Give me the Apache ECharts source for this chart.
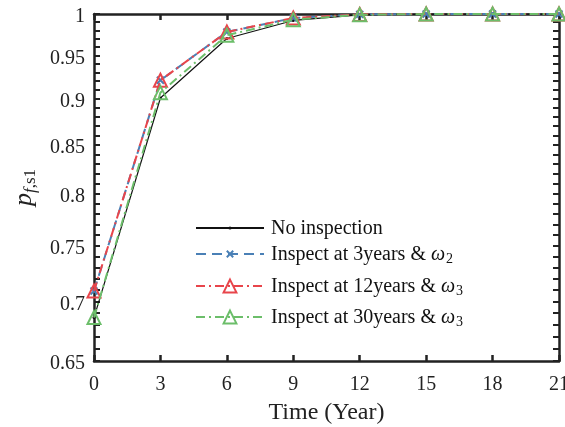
<!DOCTYPE html>
<html><head><meta charset="utf-8">
<script src="https://cdn.jsdelivr.net/npm/echarts@6/dist/echarts.min.js"></script>
<style>html,body{margin:0;padding:0;background:#fff}#c{width:565px;height:427px}</style>
</head><body><div id="c"></div>
<script>
const years = [0, 3, 6, 9, 12, 15, 18, 21];
const noInspection = [0.686, 0.901, 0.970, 0.992, 0.999, 1, 1, 1];
const inspect3 = [0.709, 0.921, 0.978, 0.995, 0.9995, 1, 1, 1];
const inspect12 = [0.709, 0.921, 0.978, 0.995, 0.9995, 1, 1, 1];
const inspect30 = [0.686, 0.907, 0.974, 0.993, 0.999, 1, 1, 1];
const yTickLabels = [0.65, 0.7, 0.75, 0.8, 0.85, 0.9, 0.95, 1];
const yMinorTicks = [0.65, 0.66, 0.67, 0.68, 0.69, 0.7, 0.71, 0.72, 0.73, 0.74, 0.75, 0.76, 0.77, 0.78, 0.79, 0.8, 0.81, 0.82, 0.83, 0.84, 0.85, 0.86, 0.87, 0.88, 0.89, 0.9, 0.91, 0.92, 0.93, 0.94, 0.95, 0.96, 0.97, 0.98, 0.99, 1];
const xTickLabels = [0, 3, 6, 9, 12, 15, 18, 21];
const seriesNames = ['No inspection', 'Inspect at 3years & ω2', 'Inspect at 12years & ω3', 'Inspect at 30years & ω3'];
const legendRich = {
  'No inspection': 'No inspection',
  'Inspect at 3years & ω2': 'Inspect at 3years & {w|ω}{s|2}',
  'Inspect at 12years & ω3': 'Inspect at 12years & {w|ω}{s|3}',
  'Inspect at 30years & ω3': 'Inspect at 30years & {w|ω}{s|3}'
};

const FONT = 'Liberation Serif';
const RED = '#e8454b', GREEN = '#6cbe6a', BLUE = '#4a80b6';
const pairs = arr => years.map((x, i) => [x, arr[i]]);

const legendTops = [216, 238, 270, 301];
const legendItemHeights = [4, 8, 16, 16];
const legends = seriesNames.map((n, i) => ({
  orient: 'vertical', left: 195, top: legendTops[i], padding: 0,
  itemWidth: 68, itemHeight: legendItemHeights[i],
  data: [n],
  formatter: nm => legendRich[nm],
  textStyle: {
    fontFamily: FONT, fontSize: 20, color: '#111', lineHeight: 22, padding: [2, 0, 0, 2],
    rich: {
      w: {fontFamily: FONT, fontStyle: 'italic', fontSize: 20, color: '#111', lineHeight: 22},
      s: {fontFamily: FONT, fontSize: 14, color: '#111', verticalAlign: 'bottom', lineHeight: 14, padding: [14, 0, 0, 1]}
    }
  }
}));

const chart = echarts.init(document.getElementById('c'), null, {renderer: 'canvas'});
const axisLineStyle = {color: '#222', width: 2.5};
chart.setOption({
  animation: false,
  backgroundColor: '#fff',
  grid: {left: 94, right: 6, top: 14, bottom: 66, containLabel: false, outerBoundsMode: 'none'},
  legend: legends,
  xAxis: [{
    type: 'value', min: 0, max: 21, interval: 3,
    name: 'Time (Year)', nameLocation: 'middle', nameGap: 40,
    nameTextStyle: {fontFamily: FONT, fontSize: 24, color: '#222'},
    axisLine: {show: true, onZero: false, lineStyle: axisLineStyle},
    axisTick: {show: true, inside: true, length: 6, lineStyle: {color: '#222', width: 2.5}},
    axisLabel: {fontFamily: FONT, fontSize: 20, color: '#222', margin: 14,
      customValues: xTickLabels},
    splitLine: {show: false}
  }, {
    type: 'value', min: 0, max: 21, interval: 3, position: 'top',
    axisLine: {show: true, onZero: false, lineStyle: axisLineStyle},
    axisTick: {show: true, inside: true, length: 6, lineStyle: {color: '#222', width: 2.5}},
    axisLabel: {show: false}, splitLine: {show: false}
  }],
  yAxis: [{
    type: 'log', logBase: 10, min: 0.65, max: 1,
    name: '{p|p}{f|f}{s|,s1}', nameLocation: 'middle', nameGap: 49, nameRotate: 90,
    nameTextStyle: {
      fontFamily: FONT, color: '#222',
      rich: {
        p: {fontFamily: FONT, fontStyle: 'italic', fontSize: 26, color: '#222', lineHeight: 30},
        f: {fontFamily: FONT, fontStyle: 'italic', fontSize: 17, color: '#222', verticalAlign: 'bottom', padding: [12, 0, 0, 0]},
        s: {fontFamily: FONT, fontSize: 17, color: '#222', verticalAlign: 'bottom', padding: [12, 0, 0, 0]}
      }
    },
    axisLine: {show: true, onZero: false, lineStyle: axisLineStyle},
    axisTick: {show: true, inside: true, length: 6, lineStyle: {color: '#222', width: 2}, customValues: yMinorTicks},
    axisLabel: {fontFamily: FONT, fontSize: 20, color: '#222', margin: 9, customValues: yTickLabels,
      formatter: v => '{a|' + String(+(+v).toFixed(2)) + '}',
      rich: {a: {fontFamily: FONT, fontSize: 20, color: '#222', lineHeight: 20, padding: [6, 0, 0, 0]}}},
    splitLine: {show: false}, minorTick: {show: false}
  }, {
    type: 'log', logBase: 10, min: 0.65, max: 1, position: 'right',
    axisLine: {show: true, onZero: false, lineStyle: axisLineStyle},
    axisTick: {show: true, inside: true, length: 6, lineStyle: {color: '#222', width: 2}, customValues: yMinorTicks},
    axisLabel: {show: false}, splitLine: {show: false}
  }],
  series: [{
    name: seriesNames[0], type: 'line', data: pairs(noInspection),
    symbol: 'circle', symbolSize: 3, clip: false,
    lineStyle: {color: '#111', width: 1.2, type: 'solid'},
    itemStyle: {color: '#111'}, z: 2
  }, {
    name: seriesNames[1], type: 'line', data: pairs(inspect3),
    symbol: 'path://M0,0L10,10M10,0L0,10', symbolSize: 7, clip: false,
    lineStyle: {color: BLUE, width: 2, type: [10, 6]},
    itemStyle: {color: BLUE, borderColor: BLUE, borderWidth: 2}, z: 3
  }, {
    name: seriesNames[2], type: 'line', data: pairs(inspect12),
    symbol: 'triangle', symbolSize: 13, clip: false,
    lineStyle: {color: RED, width: 2, type: [9, 4, 2, 4]},
    itemStyle: {color: 'rgba(255,255,255,0)', borderColor: RED, borderWidth: 2}, z: 4
  }, {
    name: seriesNames[3], type: 'line', data: pairs(inspect30),
    symbol: 'triangle', symbolSize: 13, clip: false,
    lineStyle: {color: GREEN, width: 2, type: [9, 4, 2, 4]},
    itemStyle: {color: 'rgba(255,255,255,0)', borderColor: GREEN, borderWidth: 2}, z: 5
  }]
});
</script></body></html>
